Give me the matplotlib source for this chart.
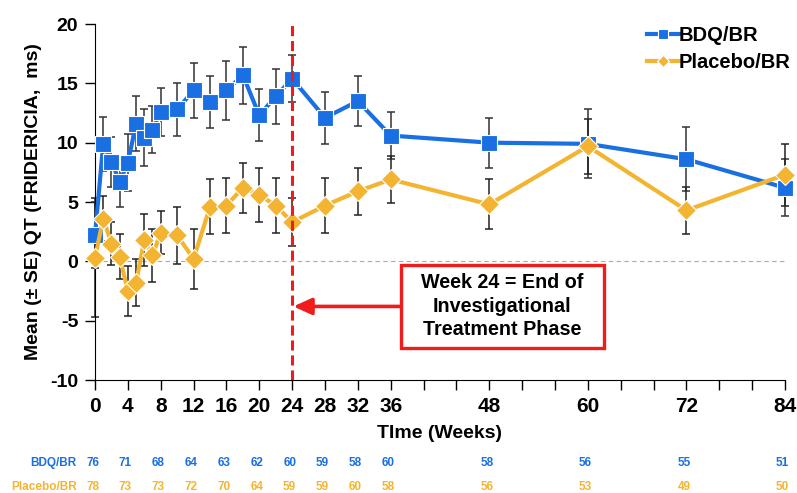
# QT change over time, BDQ/BR vs Placebo/BR, with numbers at risk below
import matplotlib
matplotlib.use("Agg")
import matplotlib.pyplot as plt
from matplotlib.patches import Rectangle

plt.rcParams['font.family'] = ['Liberation Sans', 'DejaVu Sans']
plt.rcParams['axes.unicode_minus'] = False
narrow = ['Liberation Sans Narrow', 'Liberation Sans', 'DejaVu Sans']

# ---- Data
weeks = [0, 1, 2, 3, 4, 5, 6, 7, 8, 10, 12, 14, 16, 18, 20, 22, 24,
         28, 32, 36, 48, 60, 72, 84]
bdq_mean = [2.2, 9.9, 8.4, 6.7, 8.3, 11.6, 10.4, 11.1, 12.6, 12.8, 14.4, 13.4,
            14.4, 15.7, 12.3, 13.9, 15.4, 12.1, 13.5, 10.6, 10.0, 9.9, 8.6, 6.2]
bdq_se = [2.8, 2.3, 2.1, 2.1, 2.4, 2.3, 2.4, 2.0, 2.0, 2.2, 2.3, 2.2,
          2.5, 2.4, 2.2, 2.3, 2.0, 2.2, 2.1, 2.0, 2.1, 2.9, 2.7, 2.4]
pla_mean = [0.3, 3.6, 1.5, 0.4, -2.5, -1.8, 1.8, 0.5, 2.4, 2.2, 0.2, 4.6,
            4.7, 6.2, 5.6, 4.7, 3.3, 4.7, 5.9, 6.9, 4.8, 9.7, 4.3, 7.3]
pla_se = [5.0, 1.9, 1.8, 1.9, 2.1, 2.0, 2.2, 2.2, 1.8, 2.4, 2.5, 2.3,
          2.3, 2.1, 2.3, 2.3, 2.0, 2.3, 2.0, 2.0, 2.1, 2.3, 2.0, 2.6]

# numbers of subjects
n_weeks = [0, 4, 8, 12, 16, 20, 24, 28, 32, 36, 48, 60, 72, 84]
n_bdq = [76, 71, 68, 64, 63, 62, 60, 59, 58, 60, 58, 56, 55, 51]
n_pla = [78, 73, 73, 72, 70, 64, 59, 59, 60, 58, 56, 53, 49, 50]

label_weeks = [0, 4, 8, 12, 16, 20, 24, 28, 32, 36, 48, 60, 72, 84]
minor_weeks = [40, 44, 52, 56, 64, 68, 76, 80]

blue = '#1a70e2'
orange = '#f3b531'
red = '#f01c1c'

# ---- Figure
fig = plt.figure(figsize=(7.97, 4.93), dpi=100)
ax = fig.add_axes([0.1192, 0.2292, 0.8657, 0.7221])

ax.axhline(0, color='#aaaaaa', lw=0.8, ls=(0, (4, 3)), zorder=1)

ax.errorbar(weeks, bdq_mean, yerr=bdq_se, fmt='none', ecolor='#333333',
            elinewidth=1.1, capsize=3, capthick=1.1, zorder=2, clip_on=False)
ax.errorbar(weeks, pla_mean, yerr=pla_se, fmt='none', ecolor='#222222',
            elinewidth=1.1, capsize=3, capthick=1.1, zorder=2, clip_on=False)

ax.plot(weeks, bdq_mean, color=blue, lw=3, marker='s', ms=11,
        mfc=blue, mec='white', mew=0.8, label='BDQ/BR', zorder=3, clip_on=False)
ax.plot(weeks, pla_mean, color=orange, lw=3, marker='D', ms=10,
        mfc=orange, mec='white', mew=0.8, label='Placebo/BR', zorder=4, clip_on=False)

# end of investigational phase
vl = ax.axvline(24, color=red, lw=2.2, zorder=5)
vl.set_dashes([3.3, 1.6])

ax.add_patch(Rectangle((37.25, -7.3), 24.7, 7.0, fill=True, fc='white',
                       ec=red, lw=2.4, zorder=6))
ax.text(49.6, -3.8, 'Week 24 = End of\nInvestigational\nTreatment Phase',
        ha='center', va='center', fontsize=14.2, fontweight='bold',
        linespacing=1.3, zorder=7)
ax.annotate('', xy=(24.15, -3.8), xytext=(37.25, -3.8),
            arrowprops=dict(arrowstyle='-|>,head_length=1.1,head_width=0.5',
                            color=red, lw=2.6, shrinkA=0, shrinkB=0), zorder=6)

# ---- Axes
ax.set_xlim(0, 84)
ax.set_ylim(-10, 20)
ax.set_yticks([-10, -5, 0, 5, 10, 15, 20])
ax.set_xticks(label_weeks)
ax.set_xticks(minor_weeks, minor=True)
ax.spines['top'].set_visible(False)
ax.spines['right'].set_visible(False)
ax.tick_params(axis='both', which='both', direction='out', length=7, width=1)
ax.tick_params(axis='x', pad=5)
ax.tick_params(axis='y', pad=5)
for t in ax.get_xticklabels():
    t.set_fontfamily(narrow)
    t.set_fontweight('bold')
    t.set_fontsize(15)
for t in ax.get_yticklabels():
    t.set_fontweight('bold')
    t.set_fontsize(14)

ax.set_ylabel('Mean (\u00b1 SE) QT (FRIDERICIA,  ms)', fontsize=14,
              fontweight='bold', labelpad=6)
ax.set_xlabel('TIme (Weeks)', fontsize=14, fontweight='bold',
              fontfamily=narrow, labelpad=7)

leg = ax.legend(loc='upper right', bbox_to_anchor=(1.035, 1.045), frameon=False,
                fontsize=14.5, handlelength=1.6, handletextpad=0.0,
                labelspacing=0.4, markerscale=0.65)
for t in leg.get_texts():
    t.set_fontweight('bold')

# ---- Numbers at risk
tr = ax.get_xaxis_transform()
ax.text(-2.2, -0.233, 'BDQ/BR', transform=tr, ha='right', va='center',
        color=blue, fontsize=8.5, fontweight='bold', fontfamily=narrow,
        clip_on=False)
ax.text(-2.2, -0.301, 'Placebo/BR', transform=tr, ha='right', va='center',
        color=orange, fontsize=8.5, fontweight='bold', fontfamily=narrow,
        clip_on=False)
for w, nb, npl in zip(n_weeks, n_bdq, n_pla):
    ax.text(w - 0.3, -0.233, str(nb), transform=tr, ha='center', va='center',
            color=blue, fontsize=8.5, fontweight='bold', fontfamily=narrow,
            clip_on=False)
    ax.text(w - 0.3, -0.301, str(npl), transform=tr, ha='center', va='center',
            color=orange, fontsize=8.5, fontweight='bold', fontfamily=narrow,
            clip_on=False)

fig.savefig('out.png', dpi=100)
